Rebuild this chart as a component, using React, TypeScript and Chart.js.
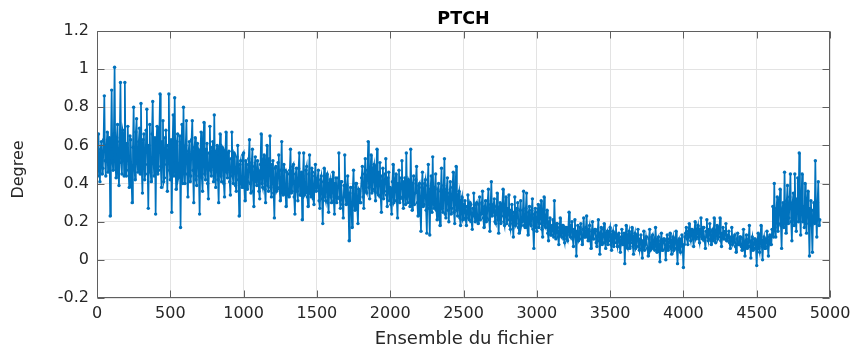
import React, { useEffect, useRef } from "react";
import { Chart, registerables } from "chart.js";

Chart.register(...registerables);

const TITLE = "PTCH";
const X_LABEL = "Ensemble du fichier";
const Y_LABEL = "Degree";
const SAMPLE_STEP = 5;
const X_TICKS = [0, 500, 1000, 1500, 2000, 2500, 3000, 3500, 4000, 4500, 5000];
const Y_TICKS = [-0.2, 0, 0.2, 0.4, 0.6, 0.8, 1, 1.2];

// PTCH values (degree), one every 5 samples of the file (20 per 100 samples)
const PTCH = [
  0.55,0.44, 0.66,0.50, 0.41,0.58, 0.62,0.45, 0.48,0.63, 0.86,0.52, 0.44,0.60, 0.67,0.46, 0.52,0.64, 0.23,0.58,
  0.89,0.52, 0.47,0.66, 1.01,0.55, 0.43,0.64, 0.71,0.48, 0.39,0.62, 0.93,0.51, 0.45,0.68, 0.66,0.44, 0.93,0.50,
  0.44,0.61, 0.70,0.47, 0.38,0.65, 0.63,0.43, 0.30,0.59, 0.80,0.49, 0.42,0.67, 0.74,0.52, 0.46,0.62, 0.69,0.45,
  0.82,0.48, 0.35,0.63, 0.66,0.42, 0.45,0.68, 0.79,0.50, 0.27,0.60, 0.71,0.46, 0.41,0.66, 0.83,0.53, 0.44,0.64,
  0.24,0.61, 0.70,0.45, 0.47,0.66, 0.87,0.49, 0.38,0.62, 0.73,0.41, 0.43,0.64, 0.68,0.50, 0.36,0.60, 0.87,0.47,
  0.42,0.63, 0.25,0.58, 0.76,0.44, 0.85,0.51, 0.37,0.62, 0.66,0.43, 0.45,0.65, 0.17,0.56, 0.71,0.40, 0.80,0.48,
  0.40,0.60, 0.73,0.45, 0.33,0.57, 0.62,0.41, 0.44,0.63, 0.73,0.47, 0.30,0.59, 0.64,0.42, 0.39,0.61, 0.58,0.44,
  0.24,0.55, 0.67,0.43, 0.36,0.60, 0.72,0.45, 0.42,0.58, 0.61,0.40, 0.32,0.56, 0.70,0.47, 0.44,0.59, 0.62,0.41,
  0.76,0.46, 0.38,0.57, 0.60,0.42, 0.30,0.55, 0.66,0.44, 0.41,0.59, 0.58,0.40, 0.33,0.54, 0.67,0.46, 0.43,0.56,
  0.57,0.41, 0.34,0.53, 0.67,0.44, 0.40,0.56, 0.55,0.39, 0.36,0.54, 0.60,0.42, 0.23,0.50, 0.52,0.40, 0.38,0.55,
  0.56,0.38, 0.31,0.52, 0.50,0.37, 0.41,0.53, 0.63,0.40, 0.35,0.51, 0.58,0.36, 0.28,0.49, 0.54,0.41, 0.39,0.52,
  0.47,0.36, 0.32,0.50, 0.66,0.40, 0.38,0.52, 0.55,0.37, 0.30,0.49, 0.60,0.39, 0.36,0.53, 0.65,0.38, 0.33,0.50,
  0.52,0.35, 0.22,0.48, 0.49,0.36, 0.37,0.51, 0.55,0.38, 0.31,0.47, 0.62,0.35, 0.34,0.50, 0.47,0.37, 0.28,0.46,
  0.45,0.34, 0.33,0.47, 0.58,0.35, 0.36,0.49, 0.50,0.33, 0.24,0.45, 0.48,0.36, 0.31,0.48, 0.56,0.34, 0.34,0.46,
  0.21,0.44, 0.56,0.34, 0.35,0.47, 0.49,0.33, 0.28,0.45, 0.55,0.35, 0.33,0.48, 0.46,0.32, 0.29,0.44, 0.50,0.36,
  0.38,0.43, 0.47,0.31, 0.27,0.42, 0.44,0.32, 0.19,0.41, 0.48,0.33, 0.31,0.44, 0.45,0.30, 0.25,0.40, 0.42,0.33,
  0.30,0.42, 0.46,0.31, 0.24,0.40, 0.43,0.30, 0.33,0.43, 0.56,0.32, 0.27,0.41, 0.41,0.29, 0.22,0.39, 0.55,0.33,
  0.29,0.39, 0.44,0.30, 0.10,0.35, 0.38,0.27, 0.17,0.38, 0.47,0.29, 0.26,0.40, 0.40,0.28, 0.19,0.37, 0.36,0.30,
  0.30,0.43, 0.49,0.33, 0.27,0.45, 0.53,0.36, 0.35,0.47, 0.62,0.38, 0.32,0.46, 0.55,0.35, 0.37,0.48, 0.50,0.36,
  0.31,0.45, 0.58,0.35, 0.34,0.46, 0.51,0.33, 0.25,0.44, 0.48,0.32, 0.36,0.45, 0.53,0.34, 0.28,0.43, 0.46,0.31,
  0.38,0.29, 0.24,0.41, 0.50,0.30, 0.31,0.42, 0.45,0.31, 0.22,0.40, 0.47,0.30, 0.33,0.43, 0.52,0.32, 0.27,0.41,
  0.43,0.29, 0.56,0.33, 0.30,0.42, 0.41,0.28, 0.58,0.31, 0.26,0.40, 0.44,0.29, 0.35,0.42, 0.49,0.30, 0.23,0.39,
  0.40,0.27, 0.15,0.38, 0.46,0.28, 0.29,0.40, 0.42,0.26, 0.14,0.39, 0.50,0.27, 0.13,0.37, 0.44,0.25, 0.54,0.30,
  0.27,0.38, 0.45,0.26, 0.21,0.37, 0.40,0.25, 0.18,0.36, 0.48,0.27, 0.25,0.39, 0.53,0.24, 0.22,0.37, 0.43,0.26,
  0.20,0.35, 0.41,0.24, 0.27,0.38, 0.46,0.25, 0.19,0.36, 0.49,0.26, 0.23,0.34, 0.36,0.22, 0.18,0.31, 0.33,0.21,
  0.22,0.29, 0.31,0.21, 0.18,0.28, 0.34,0.22, 0.21,0.30, 0.29,0.20, 0.16,0.27, 0.35,0.23, 0.20,0.29, 0.30,0.21,
  0.19,0.29, 0.33,0.21, 0.24,0.30, 0.36,0.22, 0.17,0.28, 0.31,0.20, 0.22,0.31, 0.37,0.21, 0.15,0.29, 0.41,0.23,
  0.25,0.29, 0.32,0.20, 0.19,0.28, 0.35,0.21, 0.14,0.27, 0.30,0.19, 0.23,0.29, 0.37,0.20, 0.18,0.28, 0.33,0.19,
  0.21,0.27, 0.34,0.18, 0.16,0.26, 0.29,0.19, 0.12,0.25, 0.33,0.18, 0.19,0.27, 0.30,0.17, 0.14,0.26, 0.31,0.18,
  0.20,0.26, 0.36,0.18, 0.17,0.27, 0.35,0.17, 0.13,0.25, 0.28,0.19, 0.18,0.26, 0.32,0.16, 0.06,0.24, 0.27,0.17,
  0.15,0.25, 0.29,0.17, 0.19,0.26, 0.31,0.16, 0.12,0.24, 0.33,0.18, 0.17,0.23, 0.26,0.14, 0.10,0.20, 0.22,0.13,
  0.13,0.18, 0.21,0.12, 0.31,0.15, 0.11,0.19, 0.19,0.12, 0.08,0.17, 0.22,0.13, 0.12,0.18, 0.18,0.11, 0.09,0.17,
  0.17,0.11, 0.10,0.17, 0.25,0.13, 0.12,0.18, 0.20,0.11, 0.07,0.16, 0.21,0.12, 0.02,0.15, 0.18,0.10, 0.11,0.17,
  0.19,0.11, 0.08,0.16, 0.22,0.12, 0.12,0.17, 0.23,0.12, 0.10,0.16, 0.18,0.10, 0.06,0.15, 0.20,0.11, 0.11,0.16,
  0.16,0.09, 0.07,0.15, 0.21,0.10, 0.03,0.14, 0.17,0.08, 0.09,0.16, 0.19,0.09, 0.06,0.14, 0.15,0.08, 0.10,0.15,
  0.17,0.08, 0.05,0.13, 0.15,0.07, 0.09,0.14, 0.18,0.09, 0.07,0.13, 0.14,0.07, 0.04,0.12, 0.16,0.08, 0.08,0.14,
  -0.02,0.11, 0.18,0.07, 0.06,0.13, 0.15,0.06, 0.09,0.12, 0.17,0.07, 0.03,0.12, 0.14,0.06, 0.07,0.13, 0.16,0.07,
  0.05,0.11, 0.13,0.06, 0.01,0.10, 0.15,0.05, 0.08,0.12, 0.12,0.06, 0.02,0.11, 0.16,0.05, 0.06,0.12, 0.13,0.06,
  0.09,0.05, 0.17,0.09, 0.04,0.11, 0.12,0.06, -0.01,0.10, 0.14,0.05, 0.05,0.11, 0.11,0.06, 0.00,0.10, 0.13,0.05,
  0.07,0.11, 0.14,0.06, 0.03,0.10, 0.12,0.05, 0.06,0.11, 0.15,0.06, -0.02,0.10, 0.11,0.05, 0.04,0.11, 0.13,0.07,
  -0.04,0.08, 0.12,0.14, 0.17,0.11, 0.08,0.15, 0.19,0.12, 0.10,0.16, 0.16,0.11, 0.07,0.15, 0.20,0.11, 0.12,0.16,
  0.18,0.11, 0.09,0.16, 0.22,0.12, 0.11,0.17, 0.17,0.10, 0.06,0.15, 0.21,0.12, 0.10,0.16, 0.19,0.11, 0.08,0.15,
  0.16,0.10, 0.22,0.12, 0.09,0.15, 0.18,0.11, 0.12,0.16, 0.22,0.10, 0.07,0.14, 0.17,0.11, 0.11,0.15, 0.19,0.10,
  0.10,0.13, 0.15,0.09, 0.06,0.12, 0.17,0.08, 0.09,0.12, 0.13,0.07, 0.04,0.11, 0.14,0.08, 0.08,0.12, 0.12,0.07,
  0.05,0.11, 0.16,0.07, 0.02,0.10, 0.13,0.06, 0.07,0.11, 0.18,0.07, 0.01,0.10, 0.12,0.05, 0.06,0.11, 0.11,0.06,
  -0.03,0.09, 0.14,0.06, 0.04,0.11, 0.18,0.07, 0.00,0.10, 0.12,0.06, 0.06,0.11, 0.15,0.07, 0.02,0.12, 0.13,0.08,
  0.08,0.16, 0.28,0.12, 0.40,0.17, 0.12,0.27, 0.33,0.15, 0.19,0.29, 0.37,0.18, 0.06,0.26, 0.30,0.17, 0.46,0.21,
  0.14,0.31, 0.39,0.19, 0.22,0.33, 0.45,0.20, 0.10,0.30, 0.35,0.18, 0.45,0.24, 0.15,0.32, 0.43,0.20, 0.56,0.26,
  0.13,0.32, 0.45,0.20, 0.28,0.17, 0.40,0.22, 0.14,0.31, 0.36,0.19, 0.02,0.27, 0.31,0.18, 0.04,0.26, 0.30,0.19,
  0.52,0.24, 0.12,0.30, 0.41,0.18, 0.21,
];

const SAMPLES = PTCH.map((_, i) => i * SAMPLE_STEP);

const LINE_COLOR = "#0072BD";
const TEXT_COLOR = "#262626";
const AXIS_COLOR = "#5f5f5f";
const GRID_COLOR = "#e3e3e3";
const FONT = "'DejaVu Sans', sans-serif";

const fmt = (v: number) => {
  const r = Math.round(v * 10) / 10;
  return r === 0 ? "0" : String(r);
};

const matlabAxes = {
  id: "matlabAxes",
  afterDatasetsDraw(chart: any) {
    const { ctx, chartArea: a, scales } = chart;
    ctx.save();
    ctx.strokeStyle = AXIS_COLOR;
    ctx.lineWidth = 1;
    const L = Math.round(a.left) + 0.5;
    const R = Math.round(a.right) - 0.5;
    const T = Math.round(a.top) + 0.5;
    const B = Math.round(a.bottom) - 0.5;
    ctx.beginPath();
    ctx.rect(L, T, R - L, B - T);
    const tl = 7;
    for (const v of X_TICKS) {
      const x = Math.round(scales.x.getPixelForValue(v)) + 0.5;
      ctx.moveTo(x, B);
      ctx.lineTo(x, B - tl);
      ctx.moveTo(x, T);
      ctx.lineTo(x, T + tl);
    }
    for (const v of Y_TICKS) {
      const y = Math.round(scales.y.getPixelForValue(v)) + 0.5;
      ctx.moveTo(L, y);
      ctx.lineTo(L + tl, y);
      ctx.moveTo(R, y);
      ctx.lineTo(R - tl, y);
    }
    ctx.stroke();
    ctx.restore();
  },
  afterDraw(chart: any) {
    const { ctx, chartArea: a } = chart;
    ctx.save();
    ctx.fillStyle = "#000";
    ctx.textAlign = "center";
    ctx.textBaseline = "alphabetic";
    ctx.font = `bold 17.5px ${FONT}`;
    ctx.fillText(TITLE, (a.left + a.right) / 2, 24);
    ctx.fillStyle = TEXT_COLOR;
    ctx.font = `18px ${FONT}`;
    ctx.fillText(X_LABEL, (a.left + a.right) / 2 + 0.5, 344);
    ctx.restore();
    ctx.save();
    ctx.fillStyle = TEXT_COLOR;
    ctx.font = `16px ${FONT}`;
    ctx.textAlign = "center";
    ctx.textBaseline = "middle";
    ctx.translate(19, 169.5);
    ctx.rotate(-Math.PI / 2);
    ctx.fillText(Y_LABEL, 0, 0);
    ctx.restore();
  },
};

export default function App() {
  const ref = useRef<HTMLCanvasElement | null>(null);
  useEffect(() => {
    if (!ref.current) return;
    const chart = new Chart(ref.current, {
      type: "line",
      data: {
        labels: SAMPLES,
        datasets: [
          {
            data: PTCH,
            borderColor: LINE_COLOR,
            backgroundColor: LINE_COLOR,
            borderWidth: 1.7,
            pointRadius: 1.7,
            pointBorderWidth: 0,
            pointHoverRadius: 0,
            tension: 0,
            fill: false,
          },
        ],
      },
      options: {
        animation: false,
        responsive: false,
        devicePixelRatio: 1,
        events: [],
        layout: { padding: { top: 31, right: 30, left: 0, bottom: 0 } },
        plugins: {
          legend: { display: false },
          title: { display: false },
          tooltip: { enabled: false },
        },
        scales: {
          x: {
            type: "linear",
            min: 0,
            max: 5000,
            afterFit: (s: any) => {
              s.height = 51;
            },
            afterBuildTicks: (s: any) => {
              s.ticks = X_TICKS.map((v) => ({ value: v }));
            },
            ticks: {
              color: TEXT_COLOR,
              font: { family: FONT, size: 16 },
              padding: 6,
              maxRotation: 0,
              autoSkip: false,
              callback: (v: any) => String(Math.round(Number(v))),
            },
            grid: { color: GRID_COLOR, drawTicks: false },
            border: { display: false },
          },
          y: {
            type: "linear",
            min: -0.2,
            max: 1.2,
            afterFit: (s: any) => {
              s.width = 97;
            },
            afterBuildTicks: (s: any) => {
              s.ticks = Y_TICKS.map((v) => ({ value: v }));
            },
            ticks: {
              color: TEXT_COLOR,
              font: { family: FONT, size: 16 },
              padding: 8,
              autoSkip: false,
              callback: (v: any) => fmt(Number(v)),
            },
            grid: { color: GRID_COLOR, drawTicks: false },
            border: { display: false },
          },
        },
      },
      plugins: [matlabAxes],
    });
    return () => chart.destroy();
  }, []);
  return (
    <div style={{ position: "absolute", left: 0, top: 0, width: 860, height: 349, background: "#fff" }}>
      <canvas ref={ref} width={860} height={349} />
    </div>
  );
}
